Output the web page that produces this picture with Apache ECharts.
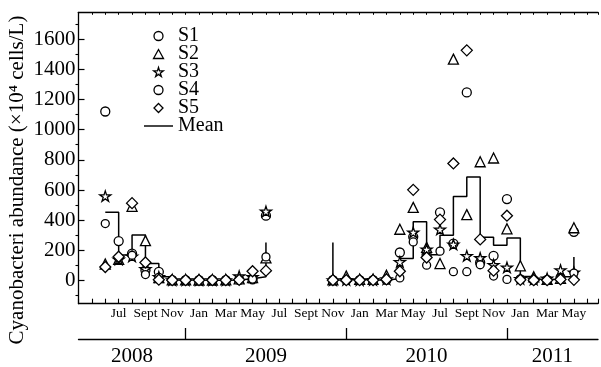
<!DOCTYPE html>
<html><head><meta charset="utf-8">
<script src="https://cdn.jsdelivr.net/npm/echarts@6/dist/echarts.min.js"></script>
<style>html,body{margin:0;padding:0;background:#fff}#c{width:601px;height:367px}</style>
</head><body><div id="c"></div>
<script>
// sampling months (Jun 2008 .. May 2011); Jul–Oct 2009 not sampled
const months = ['2008-06','2008-07','2008-08','2008-09','2008-10','2008-11','2008-12',
  '2009-01','2009-02','2009-03','2009-04','2009-05','2009-06','2009-07','2009-08','2009-09','2009-10','2009-11','2009-12',
  '2010-01','2010-02','2010-03','2010-04','2010-05','2010-06','2010-07','2010-08','2010-09','2010-10','2010-11','2010-12',
  '2011-01','2011-02','2011-03','2011-04','2011-05'];
const S1 = [1120,262,179,68,58,3,3,3,3,3,5,8,430, null,null,null,null, 3,3,3,3,5,186,290,172,452,245,1246,120,164,540,8,4,4,20,323];
const S2 = [110,140,492,265,20,5,5,4,4,5,12,20,150, null,null,null,null, 5,30,8,8,35,340,485,220,113,1467,437,787,812,343,98,25,8,15,350];
const S3 = [560,140,160,78,25,4,4,3,3,4,30,25,459, null,null,null,null, 4,5,4,5,10,124,320,207,339,240,164,150,105,88,12,8,15,70,54];
const S4 = [378,150,168,40,22,3,3,3,3,3,8,10,157, null,null,null,null, 3,4,3,3,5,18,256,102,195,59,59,105,30,8,10,4,4,10,50];
const S5 = [90,158,513,120,6,3,3,3,3,3,5,62,66, null,null,null,null, 3,3,3,3,8,62,601,153,404,776,1525,273,66,430,5,3,3,8,5];
const MEAN = [452,170,302,114,26,4,4,3,3,4,12,25,252, null,null,null,null, 4,9,4,4,13,146,390,171,301,557,686,287,234,282,27,9,7,25,156];

const monthNames = ['Jan','Feb','Mar','Apr','May','Jun','Jul','Aug','Sept','Oct','Nov','Dec'];
const years = ['2008','2009','2010','2011'];
const yLabelVals = [0,200,400,600,800,1000,1200,1400,1600];
const yMinorVals = [-100,100,300,500,700,900,1100,1300,1500,1700];

// axis origin = April 2008
const ORIGIN_Y = 2008, ORIGIN_M = 4;
const xOf = s => { const [y, m] = s.split('-').map(Number); return (y - ORIGIN_Y) * 12 + (m - ORIGIN_M); };
const X_MAX = 38.8;
const yearBounds = [0, 8, 20, 32, X_MAX];
const yearMid = years.map((_, i) => (yearBounds[i] + yearBounds[i + 1]) / 2);

const pts = arr => months.map((m, i) => arr[i] == null ? null : [xOf(m), arr[i]]).filter(Boolean);

// mean split into its two sampling blocks
const meanPts = pts(MEAN);
const gapAt = meanPts.findIndex((p, i) => i > 0 && p[0] - meanPts[i - 1][0] > 1);
const mean1 = meanPts.slice(0, gapAt);
const mean2 = [[meanPts[gapAt][0], mean1[mean1.length - 1][1]]].concat(meanPts.slice(gapAt));

const FONT = 'Liberation Serif';
const starPath = 'path://M50,0 L61,35 L98,35 L68,57 L79,91 L50,70 L21,91 L32,57 L2,35 L39,35 Z';
const triPath = 'path://M50,0 L100,90 L0,90 Z';
const diaPath = 'path://M50,0 L100,50 L50,100 L0,50 Z';
const linePath = 'path://M0,0 L40,0 L40,2 L0,2 Z';
const mk = (name, data, symbol, size) => ({
  name, type: 'scatter', data: pts(data), symbol, symbolSize: size, symbolKeepAspect: true,
  itemStyle: { color: '#fff', borderColor: '#000', borderWidth: 1.3, opacity: 1 },
  emphasis: { disabled: true }, z: 3
});
const meanLine = data => ({
  name: 'Mean', type: 'line', data, step: 'end', symbol: 'none', showSymbol: false,
  lineStyle: { color: '#000', width: 1.5 }, itemStyle: { color: '#000' }, z: 2,
  emphasis: { disabled: true }
});
const legStyle = { color: '#fff', borderColor: '#000', borderWidth: 1.3 };

const chart = echarts.init(document.getElementById('c'), null, { renderer: 'canvas' });
chart.setOption({
  animation: false,
  backgroundColor: '#fff',
  grid: { left: 78.5, top: 12.3, width: X_MAX * 13.82, height: 294.7, containLabel: false },
  legend: {
    orient: 'vertical', left: 144, top: 26, padding: 0, itemGap: -2,
    itemWidth: 29, itemHeight: 9, symbolKeepAspect: true,
    textStyle: { fontFamily: FONT, fontSize: 20, lineHeight: 17.8, color: '#000' },
    data: [
      { name: 'S1', icon: 'circle', itemStyle: legStyle },
      { name: 'S2', icon: triPath, itemStyle: legStyle },
      { name: 'S3', icon: starPath, itemStyle: legStyle },
      { name: 'S4', icon: 'circle', itemStyle: legStyle },
      { name: 'S5', icon: diaPath, itemStyle: legStyle },
      { name: 'Mean', icon: linePath, itemStyle: { color: '#000', borderWidth: 0 } }
    ],
    selectedMode: false
  },
  xAxis: [
    {
      type: 'value', position: 'bottom', min: 0, max: X_MAX, interval: 1,
      axisLine: { show: true, onZero: false, lineStyle: { color: '#000', width: 1.3 } },
      axisTick: { show: true, inside: true, length: 5, lineStyle: { color: '#000', width: 1.1 } },
      axisLabel: {
        show: true, margin: 3, fontFamily: FONT, fontSize: 13.5, color: '#000',
        showMinLabel: true, showMaxLabel: true,
        formatter: v => {
          if (v < 3 || v % 2 !== 1) return '';
          return monthNames[(ORIGIN_M - 1 + v) % 12];
        }
      },
      splitLine: { show: false }
    },
    {
      type: 'value', position: 'top', min: 0, max: X_MAX, interval: 1,
      axisLine: { show: true, onZero: false, lineStyle: { color: '#000', width: 1.3 } },
      axisTick: { show: true, inside: true, length: 2.5, lineStyle: { color: '#000', width: 1 } },
      axisLabel: { show: false }, splitLine: { show: false }
    },
    {
      type: 'value', position: 'bottom', offset: 35.3, min: 0, max: X_MAX,
      axisLine: { show: true, onZero: false, lineStyle: { color: '#000', width: 1.3 } },
      axisTick: { show: true, inside: true, length: 11, customValues: yearBounds.slice(1, -1), lineStyle: { color: '#000', width: 1.3 } },
      axisLabel: {
        show: true, margin: 7, fontFamily: FONT, fontSize: 21, color: '#000',
        customValues: yearMid,
        formatter: v => years[yearMid.indexOf(v)]
      },
      splitLine: { show: false }
    }
  ],
  yAxis: [
    {
      type: 'value', min: -153, max: 1777,
      axisLine: { show: true, onZero: false, lineStyle: { color: '#000', width: 1.3 } },
      axisTick: { show: true, inside: true, length: 6, customValues: yLabelVals, lineStyle: { color: '#000', width: 1.2 } },
      axisLabel: { show: true, margin: 3, fontFamily: FONT, fontSize: 21, color: '#000', customValues: yLabelVals, formatter: v => String(v) },
      splitLine: { show: false }
    },
    {
      type: 'value', min: -153, max: 1777, position: 'left',
      axisLine: { show: false },
      axisTick: { show: true, inside: false, length: 3, customValues: yMinorVals, lineStyle: { color: '#000', width: 1.1 } },
      axisLabel: { show: false }, splitLine: { show: false }
    }
  ],
  graphic: [{
    type: 'text', x: 17, y: 180, rotation: Math.PI / 2,
    style: { text: 'Cyanobacteri abundance (×10⁴ cells/L)', font: '21px "Liberation Serif"', fill: '#000', align: 'center', verticalAlign: 'middle' }
  }],
  series: [
    meanLine(mean1),
    meanLine(mean2),
    mk('S1', S1, 'circle', 9),
    mk('S2', S2, 'triangle', 10),
    mk('S3', S3, starPath, 11),
    mk('S4', S4, 'circle', 8),
    mk('S5', S5, 'diamond', 11)
  ]
});
</script></body></html>
